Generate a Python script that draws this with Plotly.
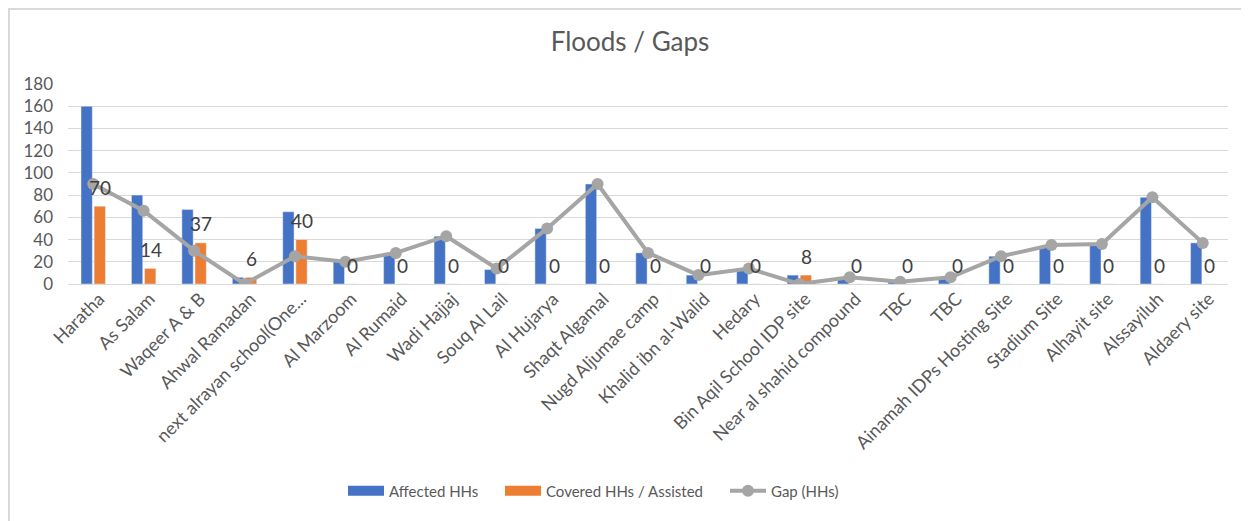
import plotly.graph_objects as go

sites = ["Haratha", "As Salam", "Waqeer A & B", "Ahwal Ramadan", "next alrayan school(One...",
         "Al Marzoom", "Al Rumaid", "Wadi Hajjaj", "Souq Al Lail", "Al Hujarya", "Shaqt Algamal",
         "Nugd Aljumae camp", "Khalid ibn al-Walid", "Hedary", "Bin Aqil School IDP site",
         "Near al shahid compound", "TBC", "TBC", "Ainamah IDPs Hosting Site", "Stadium Site",
         "Alhayit site", "Alssayiluh", "Aldaery site"]
affected = [160, 80, 67, 6, 65, 20, 28, 43, 13, 50, 90, 28, 8, 14, 8, 6, 2, 6, 25, 34, 36, 78, 37]
covered = [70, 14, 37, 6, 40, 0, 0, 0, 0, 0, 0, 0, 0, 0, 8, 0, 0, 0, 0, 0, 0, 0, 0]
gap = [90, 66, 30, 0, 25, 20, 28, 43, 14, 50, 90, 28, 8, 14, 0, 6, 2, 6, 25, 35, 36, 78, 37]

idx = list(range(len(sites)))
FONT = "Lato"
TXT = "#595959"
BLUE, ORANGE, GRAY = "#4472C4", "#ED7D31", "#A5A5A5"

OFF = 8  # page body margin
W, H = 1249 - OFF, 521 - OFF
# plot area in image coords: x 68..1228, y 84..284
ml = 68 - OFF
mt = 84 - OFF
mr = W - (1228 - OFF)
mb = H - (284 - OFF)
pw, ph = W - ml - mr, H - mt - mb


def px(xi):
    return (xi - OFF - ml) / pw


def py(yi):
    return (H - (yi - OFF) - mb) / ph


fig = go.Figure()
fig.add_trace(go.Bar(x=idx, y=affected, name="Affected HHs", marker_color=BLUE,
                     legendgroup="a", showlegend=False))
fig.add_trace(go.Bar(x=idx, y=covered, name="Covered HHs / Assisted", marker_color=ORANGE,
                     legendgroup="c", showlegend=False))
# legend keys drawn as wide rectangles (Excel style)
fig.add_trace(go.Scatter(x=[None], y=[None], mode="lines", name="Affected HHs",
                         line=dict(color=BLUE, width=10), legendgroup="a", legend="legend"))
fig.add_trace(go.Scatter(x=[None], y=[None], mode="lines", name="Covered HHs / Assisted",
                         line=dict(color=ORANGE, width=10), legendgroup="c", legend="legend2"))
fig.add_trace(go.Scatter(x=idx, y=gap, name="Gap (HHs)", mode="lines+markers",
                         line=dict(color=GRAY, width=4),
                         marker=dict(color=GRAY, size=12), legend="legend3"))

for i, v in zip(idx, covered):
    fig.add_annotation(x=i, y=v, text=str(v), showarrow=False, xshift=7, yshift=19,
                       yanchor="middle", font=dict(family=FONT, size=19, color="#404040"))

# chart-area border (top and left lines visible)
fig.add_shape(type="rect", xref="paper", yref="paper",
              x0=px(OFF + 1), x1=px(1249 + 10), y0=py(521 + 10), y1=py(OFF + 1),
              line=dict(color="#D9D9D9", width=2), layer="below")

leg_common = dict(orientation="h", xanchor="left", y=py(491), yanchor="middle",
                  font=dict(family=FONT, size=15, color=TXT), itemwidth=36,
                  bgcolor="rgba(0,0,0,0)")

fig.update_layout(
    width=W, height=H,
    margin=dict(l=ml, r=mr, t=mt, b=mb, autoexpand=False),
    paper_bgcolor="white", plot_bgcolor="white",
    barmode="group", bargap=0.48, bargroupgap=0.14,
    title=dict(text="Floods / Gaps", x=px(630), xref="paper", xanchor="center",
               y=1 - (42 - OFF) / H, yanchor="middle", font=dict(family=FONT, size=26, color=TXT)),
    font=dict(family=FONT, color=TXT),
    showlegend=True,
    legend=dict(x=px(343), **leg_common),
    legend2=dict(x=px(500), **leg_common),
    legend3=dict(x=px(725), **leg_common),
    xaxis=dict(tickmode="array", tickvals=idx, ticktext=sites, tickangle=-45,
               range=[-0.5, len(sites) - 0.5], showgrid=False, zeroline=False,
               showline=False, tickfont=dict(family=FONT, size=18, color=TXT),
               ticklabelshift=6, automargin=False),
    yaxis=dict(range=[0, 180], dtick=20, showgrid=True, gridcolor="#D9D9D9", gridwidth=1,
               zeroline=True, zerolinecolor="#D9D9D9", zerolinewidth=1, showline=False,
               tickfont=dict(family=FONT, size=17, color=TXT), ticklabelstandoff=14,
               automargin=False),
)

fig.write_html("out.html")
